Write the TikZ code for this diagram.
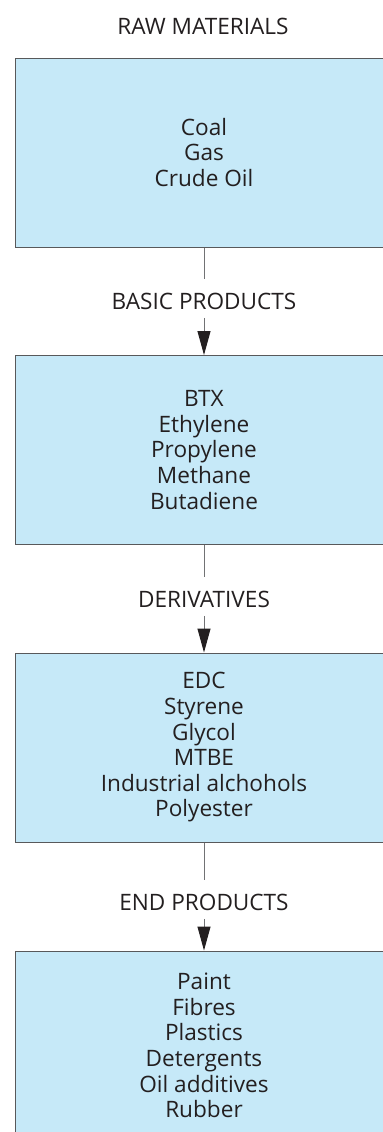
\documentclass[tikz,border=0pt]{standalone}
\usepackage{fontspec}
\setmainfont{Open Sans}
\usetikzlibrary{arrows.meta}
\definecolor{boxfill}{HTML}{C6E9F8}
\definecolor{boxline}{HTML}{58595B}
\definecolor{inkcol}{HTML}{231F20}
\begin{document}
\begin{tikzpicture}[x=0.5pt,y=-0.5pt,
	stagebox/.style={draw=boxline, line width=0.5pt, fill=boxfill,
		minimum width=189pt, minimum height=94.5pt, align=center,
		text=inkcol, font=\fontsize{11.3}{12.8}\selectfont},
	stagelabel/.style={inner sep=0pt, text height=15.25pt, text depth=4pt,
		anchor=base, text=inkcol, font=\fontsize{11.3}{12.8}\selectfont},
	link/.style={draw=boxline!85, line width=0.5pt},
	feed/.style={link, -{Triangle[length=12pt,width=6.5pt,color=inkcol]}},
]
\useasboundingbox (0,0) rectangle (382,1132);

%Raw Materials
\node [text=inkcol, font=\fontsize{11.3}{12.8}\selectfont]  (rawtext)at (203,26) {RAW MATERIALS};
\node [stagebox]  (rawbox)at (204,152.5) {Coal\\Gas\\Crude Oil};

%Basic Products
\node [stagelabel]  (basictext)at (204,309.5) {BASIC PRODUCTS};
\node [stagebox]  (basicbox)at (204,450) {BTX\\Ethylene\\Propylene\\Methane\\Butadiene};

%Derivatives
\node [stagelabel]  (derivtext)at (204,607.5) {DERIVATIVES};
\node [stagebox]  (derivbox)at (204,747.5) {EDC\\Styrene\\Glycol\\MTBE\\Industrial alchohols\\Polyester};

%End Products
\node [stagelabel]  (endtext)at (204,910.5) {END PRODUCTS};
\node [stagebox]  (endbox)at (204,1045.5) {Paint\\Fibres\\Plastics\\Detergents\\Oil additives\\Rubber};

%Connectors
\draw[link]  (rawbox.south)--(basictext.north);
\draw[feed]  (basictext.south)--(basicbox.north);
\draw[link]  (basicbox.south)--(derivtext.north);
\draw[feed]  (derivtext.south)--(derivbox.north);
\draw[link]  (derivbox.south)--(endtext.north);
\draw[feed]  (endtext.south)--(endbox.north);

\end{tikzpicture}
\end{document}
